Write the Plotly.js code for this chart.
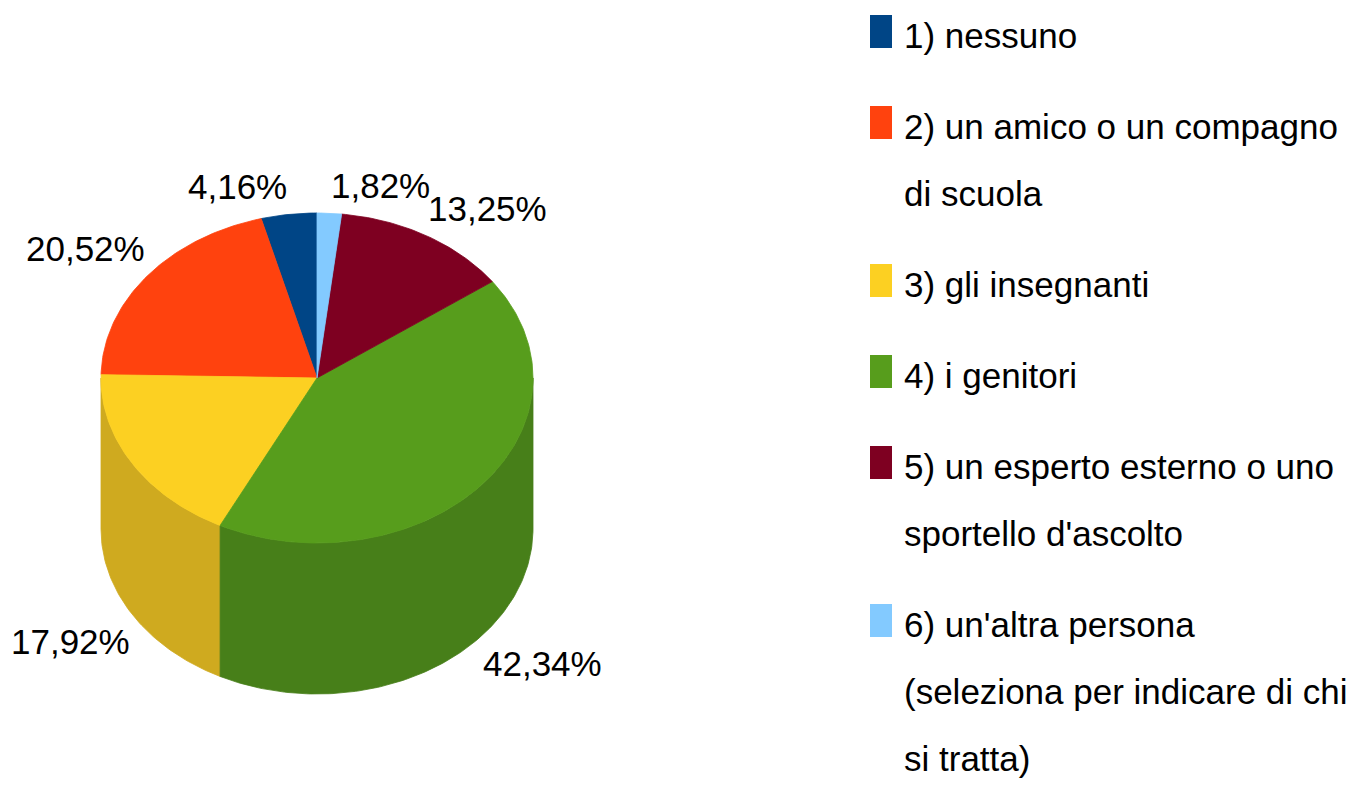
<!DOCTYPE html>
<html>
<head>
<meta charset="utf-8">
<script src="https://cdn.plot.ly/plotly-3.0.1.min.js"></script>
<style>html,body{margin:0;padding:0;background:#fff;}#chart{width:1364px;height:788px;}</style>
</head>
<body>
<div id="chart"></div>
<script>
// ---- data ----
const categories = [
  '1) nessuno',
  '2) un amico o un compagno<br>di scuola',
  '3) gli insegnanti',
  '4) i genitori',
  "5) un esperto esterno o uno<br>sportello d'ascolto",
  "6) un'altra persona<br>(seleziona per indicare di chi<br>si tratta)"
];
const values = [4.16, 20.52, 17.92, 42.34, 13.25, 1.82];
const topColors = ['#004586', '#ff420e', '#fcd022', '#579d1c', '#7e0021', '#83caff'];
const sideColors = ['#00386e', '#d1360b', '#cfaa1f', '#477f19', '#67001b', '#6ba6d1'];

// ---- geometry (layout constants, pixels) ----
const W = 1364, H = 788;
const cx = 317, cy = 378, rx = 216, ry = 165, depth = 151;
const FONT = "'Liberation Sans', Arial, sans-serif";
const FS = 35;

function pt(deg, dy) {
  const r = deg * Math.PI / 180;
  return [cx + rx * Math.sin(r), cy - ry * Math.cos(r) + (dy || 0)];
}
function arc(a, b, dy) {
  const pts = [];
  const n = Math.max(2, Math.ceil(Math.abs(b - a)));
  for (let i = 0; i <= n; i++) pts.push(pt(a + (b - a) * i / n, dy));
  return pts;
}

const total = values.reduce((s, v) => s + v, 0);
// slices run counter-clockwise from 12 o'clock; angles measured clockwise from top
let cum = 0;
const slices = values.map((v, i) => {
  const start = 360 - (cum + v) / total * 360;
  const end = 360 - cum / total * 360;
  cum += v;
  return {i, start, end, mid: (start + end) / 2};
});

const traces = [];
// side walls (visible front half: 90..270 deg)
slices.forEach(s => {
  const a = Math.max(s.start, 90), b = Math.min(s.end, 270);
  if (b <= a) return;
  const top = arc(a, b, 0);
  const bot = arc(b, a, depth);
  const all = top.concat(bot);
  all.push(all[0]);
  traces.push({
    type: 'scatter', mode: 'lines', fill: 'toself',
    x: all.map(p => p[0]), y: all.map(p => p[1]),
    fillcolor: sideColors[s.i], line: {color: sideColors[s.i], width: 0.8},
    hoverinfo: 'skip', showlegend: false
  });
});
// top faces
slices.forEach(s => {
  const pts = [[cx, cy]].concat(arc(s.start, s.end, 0));
  pts.push([cx, cy]);
  traces.push({
    type: 'scatter', mode: 'lines', fill: 'toself',
    x: pts.map(p => p[0]), y: pts.map(p => p[1]),
    fillcolor: topColors[s.i], line: {color: topColors[s.i], width: 0.8},
    name: categories[s.i].replace(/<br>/g, ' '),
    hoverinfo: 'skip', showlegend: false
  });
});

const annotations = [];
// value labels
slices.forEach(s => {
  const r = s.mid * Math.PI / 180;
  const sn = Math.sin(r), cs = Math.cos(r);
  const p = pt(s.mid, cs < 0 ? depth : 0);
  annotations.push({
    x: p[0], y: p[1], xref: 'x', yref: 'y', showarrow: false,
    text: values[s.i].toFixed(2).replace('.', ',') + '%',
    xanchor: sn > 0 ? 'left' : 'right',
    yanchor: cs > 0 ? 'bottom' : 'top',
    yshift: cs > 0 ? 6 : -6,
    font: {family: FONT, size: FS, color: '#000'}
  });
});

// legend (manual, to reproduce spacing)
const shapes = [];
const lgTextX = 902, lgBoxX0 = 870, lgBoxX1 = 892;
const lineH = 67, itemGap = 91;
let base = 52;
categories.forEach((c, i) => {
  const lines = c.split('<br>');
  shapes.push({type: 'rect', xref: 'x', yref: 'y', x0: lgBoxX0, x1: lgBoxX1,
    y0: base - 37, y1: base - 4, fillcolor: topColors[i], line: {width: 0}});
  lines.forEach((ln, k) => {
    const b = base + k * lineH;
    annotations.push({
      x: lgTextX, y: b - 17, xref: 'x', yref: 'y', showarrow: false,
      text: ln, xanchor: 'left', yanchor: 'middle',
      font: {family: FONT, size: FS, color: '#000'}
    });
  });
  base += (lines.length - 1) * lineH + itemGap;
});

const layout = {
  width: W, height: H,
  margin: {l: 0, r: 0, t: 0, b: 0},
  paper_bgcolor: '#fff', plot_bgcolor: '#fff',
  xaxis: {range: [0, W], visible: false, fixedrange: true},
  yaxis: {range: [H, 0], visible: false, fixedrange: true},
  showlegend: false,
  annotations: annotations,
  shapes: shapes,
  separators: ',.'
};
Plotly.newPlot('chart', traces, layout, {displayModeBar: false, staticPlot: true});
</script>
</body>
</html>
